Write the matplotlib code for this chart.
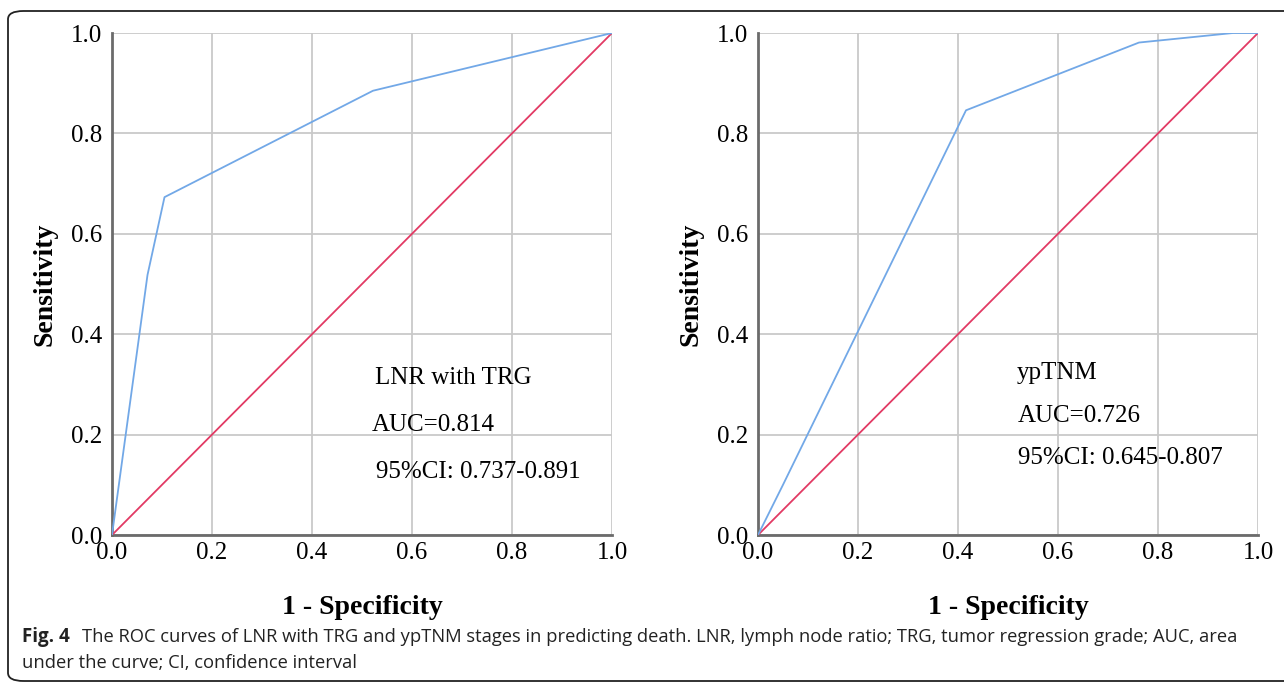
import matplotlib
matplotlib.use('Agg')
import matplotlib.pyplot as plt
from matplotlib.patches import FancyBboxPatch

# ROC curve points
lnr_fpr = [0.0, 0.071, 0.105, 0.522, 1.0]
lnr_tpr = [0.0, 0.518, 0.673, 0.885, 1.0]
yp_fpr = [0.0, 0.05, 0.416, 0.762, 0.95, 1.0]
yp_tpr = [0.0, 0.10, 0.846, 0.981, 1.0, 1.0]
ref_line = [0.0, 1.0]

ticks = [0.0, 0.2, 0.4, 0.6, 0.8, 1.0]
tick_labels = ['0.0', '0.2', '0.4', '0.6', '0.8', '1.0']

lnr_text = ['LNR with TRG', 'AUC=0.814', '95%CI: 0.737-0.891']
yp_text = ['ypTNM', 'AUC=0.726', '95%CI: 0.645-0.807']

serif = ['Liberation Serif', 'DejaVu Serif']
blue = '#72a8e7'
red = '#e23a64'
grid_col = '#c9c9c9'
spine_col = '#6b6b6b'

W, H = 1284, 685
fig = plt.figure(figsize=(W / 100, H / 100), dpi=100)

# frame around the figure (open on the right side like the original crop)
frame = FancyBboxPatch((8 / W, 4 / H), 1.2, (H - 15) / H,
                       boxstyle='round,pad=0,rounding_size=0.012',
                       transform=fig.transFigure, fill=False,
                       edgecolor='#222222', linewidth=1.3)
fig.patches.append(frame)


def roc_panel(left, fpr, tpr, text, text_pos):
    ax = fig.add_axes([left / W, (H - 535) / H, 500 / W, 502 / H])
    ax.plot(ref_line, ref_line, color=red, lw=1.3, zorder=3)
    ax.plot(fpr, tpr, color=blue, lw=1.3, zorder=4)
    ax.set_xlim(0, 1)
    ax.set_ylim(0, 1)
    ax.set_xticks(ticks)
    ax.set_yticks(ticks)
    ax.set_xticklabels(tick_labels, fontfamily=serif, fontsize=18)
    ax.set_yticklabels(tick_labels, fontfamily=serif, fontsize=18)
    ax.tick_params(length=0)
    ax.tick_params(axis='x', pad=5)
    ax.tick_params(axis='y', pad=7)
    ax.grid(True, color=grid_col, lw=1.3)
    ax.set_axisbelow(True)
    for s in ['top', 'right']:
        ax.spines[s].set_visible(False)
    for s in ['left', 'bottom']:
        ax.spines[s].set_color(spine_col)
        ax.spines[s].set_linewidth(2)
    ax.set_ylabel('Sensitivity', fontfamily=serif, fontsize=20,
                  fontweight='bold', labelpad=10)
    ax.set_xlabel('1 - Specificity', fontfamily=serif, fontsize=20,
                  fontweight='bold', labelpad=22)
    for t, (x, y) in zip(text, text_pos):
        ax.text(x, y, t, fontfamily=serif, fontsize=18, va='center', ha='left')
    return ax


roc_panel(112, lnr_fpr, lnr_tpr, lnr_text,
          [(0.526, 0.313), (0.52, 0.219), (0.528, 0.125)])
roc_panel(758, yp_fpr, yp_tpr, yp_text,
          [(0.518, 0.323), (0.52, 0.237), (0.52, 0.153)])

cap_font = ['Open Sans', 'DejaVu Sans']
fig.text(22 / W, 1 - 637 / H, 'Fig. 4', fontfamily=cap_font, fontsize=13.5,
         fontweight='bold', va='center', ha='left', color='#222222')
fig.text(82 / W, 1 - 637 / H,
         'The ROC curves of LNR with TRG and ypTNM stages in predicting death. '
         'LNR, lymph node ratio; TRG, tumor regression grade; AUC, area',
         fontfamily=cap_font, fontsize=13.2, va='center', ha='left', color='#222222')
fig.text(22 / W, 1 - 663 / H, 'under the curve; CI, confidence interval',
         fontfamily=cap_font, fontsize=13.2, va='center', ha='left', color='#222222')

fig.savefig('out.png', dpi=100)
